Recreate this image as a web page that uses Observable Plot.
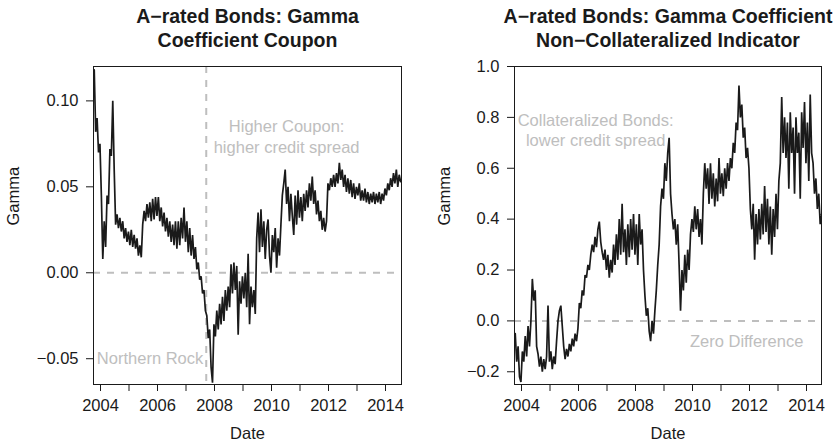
<!DOCTYPE html>
<html><head><meta charset="utf-8">
<script src="https://cdn.jsdelivr.net/npm/d3@7"></script>
<script src="https://cdn.jsdelivr.net/npm/@observablehq/plot@0.6"></script>
<style>
body{margin:0;background:#fff;}
#wrap{display:flex;width:836px;height:444px;}
#wrap svg{font-family:"Liberation Sans",Arial,Helvetica,sans-serif;}
</style></head><body><div id="wrap"></div>
<script>
// ---- data ----
const startYear = 2003.78;
const stepYears = 0.05;

const couponGamma = [
 0.118, 0.082, 0.090, 0.070, 0.075, 0.045, 0.008, 0.030, 0.015, 0.045,
 0.040, 0.072, 0.068, 0.100, 0.060, 0.028, 0.034, 0.026, 0.032, 0.024,
 0.030, 0.020, 0.026, 0.018, 0.024, 0.016, 0.025, 0.015, 0.022, 0.014,
 0.020, 0.010, 0.016, 0.009, 0.028, 0.036, 0.030, 0.040, 0.032, 0.041,
 0.030, 0.043, 0.031, 0.044, 0.033, 0.044, 0.030, 0.038, 0.027, 0.035,
 0.024, 0.032, 0.021, 0.030, 0.018, 0.028, 0.016, 0.030, 0.014, 0.030,
 0.016, 0.032, 0.020, 0.038, 0.018, 0.030, 0.012, 0.026, 0.010, 0.022,
 0.008, 0.015, 0.002, 0.006, -0.004, -0.002, -0.012, -0.010, -0.022, -0.025,
 -0.038, -0.033, -0.055, -0.064, -0.030, -0.037, -0.022, -0.033, -0.018, -0.030,
 -0.014, -0.028, -0.010, -0.022, -0.008, -0.020, 0.005, -0.012, 0.006, -0.010,
 0.004, -0.036, -0.005, -0.018, -0.002, -0.015, 0.000, -0.020, 0.011, -0.030,
 -0.008, -0.020, -0.010, -0.024, 0.020, 0.035, 0.012, 0.037, 0.015, 0.030,
 0.008, 0.025, 0.031, 0.010, 0.000, 0.022, 0.012, 0.026, 0.003, 0.020,
 0.010, 0.028, 0.045, 0.052, 0.060, 0.040, 0.050, 0.030, 0.046, 0.033,
 0.022, 0.045, 0.028, 0.048, 0.032, 0.044, 0.030, 0.046, 0.036, 0.048,
 0.038, 0.052, 0.042, 0.056, 0.040, 0.048, 0.034, 0.042, 0.030, 0.036,
 0.025, 0.032, 0.024, 0.030, 0.052, 0.048, 0.055, 0.050, 0.057, 0.050,
 0.058, 0.052, 0.064, 0.054, 0.060, 0.050, 0.057, 0.047, 0.055, 0.046,
 0.054, 0.044, 0.052, 0.043, 0.050, 0.045, 0.052, 0.042, 0.048, 0.042,
 0.049, 0.041, 0.047, 0.040, 0.046, 0.041, 0.047, 0.040, 0.046, 0.041,
 0.047, 0.040, 0.046, 0.042, 0.049, 0.045, 0.052, 0.048, 0.055, 0.050,
 0.058, 0.052, 0.060, 0.050, 0.057, 0.053
];

const collateralGamma = [
 -0.05, -0.16, -0.10, -0.22, -0.24, -0.12, -0.16, -0.06, -0.14, -0.02,
 -0.10, 0.00, 0.165, 0.08, 0.12, -0.10, -0.13, -0.18, -0.14, -0.20,
 -0.15, -0.19, -0.14, 0.06, -0.16, -0.12, -0.19, -0.14, -0.17, -0.08,
 0.00, 0.04, 0.06, -0.02, -0.10, -0.15, -0.11, -0.14, -0.09, -0.12,
 -0.07, -0.10, -0.05, -0.08, -0.03, 0.07, 0.05, 0.12, 0.10, 0.18,
 0.17, 0.22, 0.20, 0.26, 0.30, 0.27, 0.33, 0.29, 0.36, 0.39,
 0.31, 0.27, 0.24, 0.28, 0.20, 0.26, 0.17, 0.24, 0.19, 0.30,
 0.22, 0.34, 0.24, 0.40, 0.26, 0.46, 0.27, 0.36, 0.22, 0.38,
 0.25, 0.40, 0.28, 0.42, 0.26, 0.38, 0.22, 0.42, 0.30, 0.36,
 0.20, 0.10, 0.02, 0.05, -0.04, -0.08, 0.00, -0.05, 0.04, 0.12,
 0.22, 0.30, 0.45, 0.52, 0.48, 0.62, 0.55, 0.66, 0.72, 0.50,
 0.42, 0.36, 0.40, 0.30, 0.38, 0.22, 0.04, 0.20, 0.12, 0.26,
 0.15, 0.28, 0.20, 0.34, 0.40, 0.35, 0.45, 0.36, 0.44, 0.33,
 0.40, 0.30, 0.50, 0.62, 0.52, 0.60, 0.46, 0.62, 0.48, 0.58,
 0.45, 0.56, 0.47, 0.64, 0.50, 0.58, 0.49, 0.60, 0.52, 0.62,
 0.55, 0.64, 0.60, 0.70, 0.66, 0.78, 0.75, 0.925, 0.80, 0.85,
 0.72, 0.76, 0.64, 0.68, 0.60, 0.44, 0.36, 0.46, 0.24, 0.42,
 0.30, 0.44, 0.32, 0.46, 0.34, 0.53, 0.35, 0.48, 0.30, 0.45,
 0.26, 0.44, 0.33, 0.50, 0.36, 0.55, 0.62, 0.88, 0.66, 0.80,
 0.64, 0.78, 0.52, 0.82, 0.66, 0.76, 0.50, 0.80, 0.66, 0.74,
 0.48, 0.82, 0.68, 0.86, 0.62, 0.78, 0.55, 0.89, 0.66, 0.62,
 0.50, 0.56, 0.44, 0.50, 0.38, 0.42
];

const yearTicks = [2004, 2005, 2006, 2007, 2008, 2009, 2010, 2011, 2012, 2013, 2014];
const couponTicks = [-0.05, 0, 0.05, 0.10];
const collateralTicks = [-0.2, 0, 0.2, 0.4, 0.6, 0.8, 1.0];
const northernRockDate = 2007.71;

const leftTitle = "A\u2212rated Bonds: Gamma\nCoefficient Coupon";
const rightTitle = "A\u2212rated Bonds: Gamma Coefficient\nNon\u2212Collateralized Indicator";

const leftNotes = [
  {x: 2010.53, y: 0.085, label: "Higher Coupon:"},
  {x: 2010.53, y: 0.073, label: "higher credit spread"}
];
const leftEndNote = [{x: northernRockDate, y: -0.05, label: "Northern Rock"}];
const rightNotes = [
  {x: 2006.6, y: 0.785, label: "Collateralized Bonds:"},
  {x: 2006.6, y: 0.707, label: "lower credit spread"},
  {x: 2011.9, y: -0.08, label: "Zero Difference"}
];

// ---- drawing ----
const FONT = 16.5;
const GREY = "#bebebe";
const INK = "#1a1a1a";
const PX_PER_YEAR = 28.5;
const X0 = 2003.754;

function fmtSigned(d, digits) {
  const s = Math.abs(d).toFixed(digits);
  return d < 0 ? "\u2212" + s : s;
}

function panel({values, title, yDomain, yTicks, digits, marginLeft, marginRight, marginTop, extra, yLabelDx}) {
  const width = 418, height = 444, marginBottom = 60;
  const innerW = width - marginLeft - marginRight;
  const data = values.map((v, i) => ({date: startYear + i * stepYears, value: v}));
  return Plot.plot({
    width, height, marginLeft, marginRight, marginTop, marginBottom,
    style: {fontSize: FONT + "px", fontFamily: '"Liberation Sans", Arial, Helvetica, sans-serif', color: INK, background: "#fff"},
    x: {domain: [X0, X0 + innerW / PX_PER_YEAR]},
    y: {domain: yDomain},
    marks: [
      Plot.ruleY([0], {stroke: GREY, strokeWidth: 2, strokeDasharray: "7,7"}),
      ...extra.pre,
      Plot.line(data, {x: "date", y: "value", stroke: INK, strokeWidth: 1.7, strokeLinejoin: "miter", strokeMiterlimit: 2, clip: true}),
      ...extra.post,
      Plot.frame({stroke: INK, strokeWidth: 1}),
      Plot.axisX({ticks: yearTicks, tickFormat: d => d % 2 === 0 ? String(d) : "", tickSize: 7, tickPadding: 8, label: null, fontSize: FONT}),
      Plot.axisY({ticks: yTicks, tickFormat: d => fmtSigned(d, digits), tickSize: 7, tickPadding: 8, label: null, fontSize: FONT}),
      Plot.text([title], {text: d => d, frameAnchor: "top", dy: -20, lineAnchor: "bottom", fontWeight: "bold", fontSize: 19.5, lineHeight: 1.2, fill: INK}),
      Plot.text(["Gamma"], {text: d => d, frameAnchor: "left", dx: yLabelDx, rotate: -90, fontSize: FONT, fill: INK}),
      Plot.text(["Date"], {text: d => d, frameAnchor: "bottom", dy: 49.5, lineAnchor: "middle", fontSize: FONT, fill: INK})
    ]
  });
}

const wrap = document.getElementById("wrap");
wrap.append(panel({
  values: couponGamma, title: leftTitle, yDomain: [-0.065, 0.12], yTicks: couponTicks, digits: 2,
  marginLeft: 93, marginRight: 17, marginTop: 66, yLabelDx: -79.5,
  extra: {
    pre: [Plot.ruleX([northernRockDate], {stroke: GREY, strokeWidth: 2, strokeDasharray: "7,7"})],
    post: [
      Plot.text(leftNotes, {x: "x", y: "y", text: "label", fill: GREY, fontSize: FONT}),
      Plot.text(leftEndNote, {x: "x", y: "y", text: "label", fill: GREY, fontSize: FONT, textAnchor: "end", dx: -3})
    ]
  }
}));
wrap.append(panel({
  values: collateralGamma, title: rightTitle, yDomain: [-0.25, 1.0], yTicks: collateralTicks, digits: 1,
  marginLeft: 96, marginRight: 15, marginTop: 66, yLabelDx: -70,
  extra: {
    pre: [],
    post: [Plot.text(rightNotes, {x: "x", y: "y", text: "label", fill: GREY, fontSize: FONT})]
  }
}));
</script></body></html>
